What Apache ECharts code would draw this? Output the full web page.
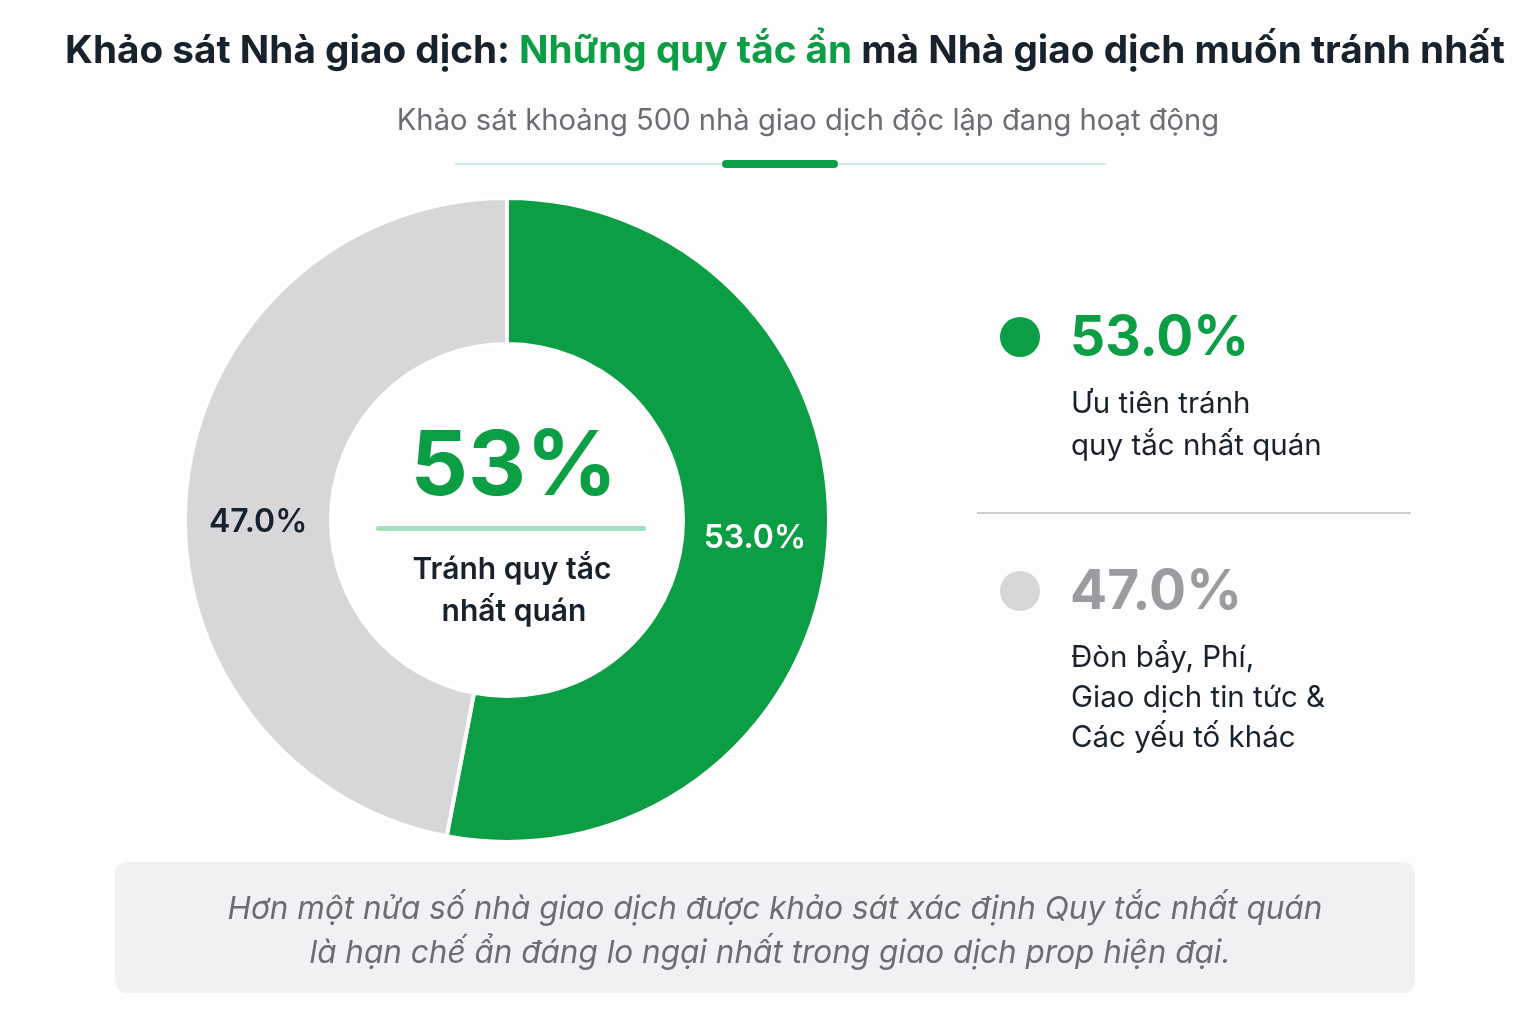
<!DOCTYPE html>
<html>
<head>
<meta charset="utf-8">
<script src="https://cdn.jsdelivr.net/npm/echarts@6/dist/echarts.min.js"></script>
<style>
html,body{margin:0;padding:0;background:#fdfdfd;}
#chart{width:1533px;height:1026px;}
</style>
</head>
<body>
<div id="chart"></div>
<script>
const categories = ['Ưu tiên tránh quy tắc nhất quán', 'Đòn bẩy, Phí, Giao dịch tin tức & Các yếu tố khác'];
const values = [53.0, 47.0];
const legendLines = [['Ưu tiên tránh', 'quy tắc nhất quán'], ['Đòn bẩy, Phí,', 'Giao dịch tin tức &', 'Các yếu tố khác']];
const centerValue = '53%';
const centerLines = ['Tránh quy tắc', 'nhất quán'];
const titleParts = ['Khảo sát Nhà giao dịch: ', 'Những quy tắc ẩn', ' mà Nhà giao dịch muốn tránh nhất'];
const subtitle = 'Khảo sát khoảng 500 nhà giao dịch độc lập đang hoạt động';
const footnote = ['Hơn một nửa số nhà giao dịch được khảo sát xác định Quy tắc nhất quán', 'là hạn chế ẩn đáng lo ngại nhất trong giao dịch prop hiện đại.'];

const GREEN = '#0b9e45';
const GREY = '#d7d7d9';
const DARK = '#17222d';
const FONT = 'Inter, "Noto Sans", sans-serif';

const chart = echarts.init(document.getElementById('chart'));

const legendGraphics = [];
const legendY = [337, 591];
const legendColors = [GREEN, GREY];
const legendTextColors = [GREEN, '#9b9ba0'];
values.forEach((v, i) => {
  legendGraphics.push({
    type: 'circle', shape: {cx: 1020, cy: legendY[i], r: 20}, style: {fill: legendColors[i]}
  });
  legendGraphics.push({
    type: 'text', x: 1070, y: legendY[i] + 1,
    style: {text: v.toFixed(1) + '%', font: 'bold 55px ' + FONT, fill: legendTextColors[i], textVerticalAlign: 'middle'}
  });
  legendLines[i].forEach((line, j) => {
    legendGraphics.push({
      type: 'text', x: 1071, y: legendY[i] + 67 + j * (i === 0 ? 42 : 40),
      style: {text: line, font: '29.5px ' + FONT, fill: DARK, textVerticalAlign: 'middle'}
    });
  });
});

const option = {
  backgroundColor: '#fdfdfd',
  series: [{
    type: 'pie',
    center: [507, 520],
    radius: [176, 322],
    startAngle: 90,
    clockwise: true,
    silent: true,
    itemStyle: {borderColor: '#ffffff', borderWidth: 4},
    label: {
      position: 'inside',
      formatter: p => p.value.toFixed(1) + '%',
      fontFamily: FONT,
      fontSize: 32,
      fontWeight: 600
    },
    labelLayout: p => (p.dataIndex === 1 ? {dx: 2, dy: 26} : {dx: -3, dy: -5}),
    labelLine: {show: false},
    data: [
      {name: categories[0], value: values[0], itemStyle: {color: GREEN}, label: {color: '#ffffff'}},
      {name: categories[1], value: values[1], itemStyle: {color: GREY}, label: {color: DARK}}
    ]
  }],
  graphic: [
    {
      type: 'text', x: 785, y: 51,
      style: {
        text: '{a|' + titleParts[0] + '}{b|' + titleParts[1] + '}{a|' + titleParts[2] + '}',
        textAlign: 'center', textVerticalAlign: 'middle',
        rich: {
          a: {font: 'bold 38.7px ' + FONT, fill: DARK, color: DARK},
          b: {font: 'bold 38.7px ' + FONT, fill: GREEN, color: GREEN}
        }
      }
    },
    {
      type: 'text', x: 808, y: 121,
      style: {text: subtitle, font: '29.2px ' + FONT, fill: '#6c6d73', textAlign: 'center', textVerticalAlign: 'middle'}
    },
    {type: 'line', shape: {x1: 455, y1: 164, x2: 1106, y2: 164}, style: {stroke: '#cfeee0', lineWidth: 2}},
    {type: 'rect', shape: {x: 722, y: 160, width: 116, height: 8, r: 4}, style: {fill: GREEN}},
    {
      type: 'text', x: 514, y: 468,
      style: {text: centerValue, font: 'bold 90px ' + FONT, fill: GREEN, textAlign: 'center', textVerticalAlign: 'middle'}
    },
    {type: 'rect', shape: {x: 376, y: 526, width: 270, height: 5, r: 2.5}, style: {fill: '#a6dfbe'}},
    {
      type: 'text', x: 512, y: 570,
      style: {text: centerLines[0], font: '600 30px ' + FONT, fill: DARK, textAlign: 'center', textVerticalAlign: 'middle'}
    },
    {
      type: 'text', x: 514, y: 612,
      style: {text: centerLines[1], font: '600 30px ' + FONT, fill: DARK, textAlign: 'center', textVerticalAlign: 'middle'}
    },
    {type: 'line', shape: {x1: 977, y1: 513, x2: 1411, y2: 513}, style: {stroke: '#cfcfd1', lineWidth: 2}},
    ...legendGraphics,
    {type: 'rect', shape: {x: 115, y: 862, width: 1300, height: 131, r: 12}, style: {fill: '#f1f1f3'}},
    {
      type: 'text', x: 775, y: 910,
      style: {text: footnote[0], font: 'italic 31.5px ' + FONT, fill: '#6c6d73', textAlign: 'center', textVerticalAlign: 'middle'}
    },
    {
      type: 'text', x: 770, y: 954,
      style: {text: footnote[1], font: 'italic 31.5px ' + FONT, fill: '#6c6d73', textAlign: 'center', textVerticalAlign: 'middle'}
    }
  ]
};
chart.setOption(option);
</script>
</body>
</html>
